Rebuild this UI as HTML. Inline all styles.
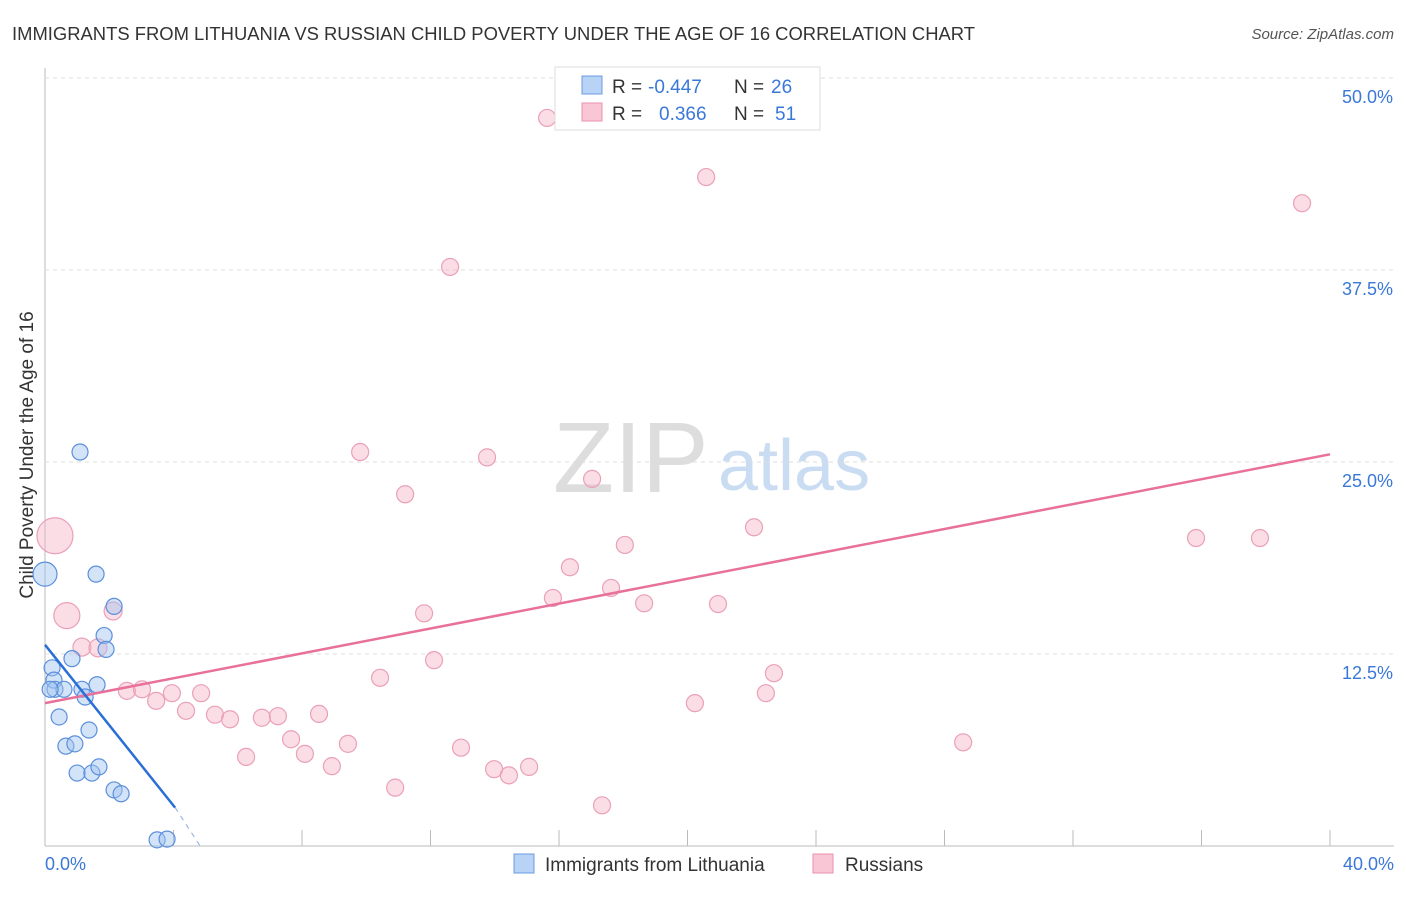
<!DOCTYPE html>
<html><head><meta charset="utf-8"><style>
body{margin:0;background:#fff;font-family:"Liberation Sans",sans-serif}
svg text{font-family:"Liberation Sans",sans-serif}
</style></head><body>
<svg id="c" width="1406" height="892">
<text x="12" y="40" font-size="18" fill="#333" textLength="963" lengthAdjust="spacingAndGlyphs">IMMIGRANTS FROM LITHUANIA VS RUSSIAN CHILD POVERTY UNDER THE AGE OF 16 CORRELATION CHART</text>
<text x="1394" y="39" font-size="15" fill="#555" font-style="italic" text-anchor="end">Source: ZipAtlas.com</text>
<text x="553" y="492" font-size="100" fill="#ddd" font-family="Liberation Serif">ZIP</text>
<text x="718" y="490" font-size="72" fill="#c9dcf2">atlas</text>
<text x="33" y="455" font-size="19" fill="#333" text-anchor="middle" transform="rotate(-90 33 455)">Child Poverty Under the Age of 16</text>
<g id="grid"></g><g id="marks"></g>
<g>
<rect x="555" y="67" width="265" height="63" fill="#fff" stroke="#ddd"/>
<rect x="582" y="76" width="20" height="18" fill="#b8d3f5" stroke="#6a9be0"/>
<rect x="582" y="103" width="20" height="18" fill="#f9c6d5" stroke="#e890ab"/>
<text x="612" y="93" font-size="19" fill="#333">R =</text>
<text x="648" y="93" font-size="19" fill="#3a78d8">-0.447</text>
<text x="734" y="93" font-size="19" fill="#333">N =</text>
<text x="771" y="93" font-size="19" fill="#3a78d8">26</text>
<text x="612" y="120" font-size="19" fill="#333">R =</text>
<text x="659" y="120" font-size="19" fill="#3a78d8">0.366</text>
<text x="734" y="120" font-size="19" fill="#333">N =</text>
<text x="775" y="120" font-size="19" fill="#3a78d8">51</text>
</g>
<g>
<rect x="514" y="854" width="20" height="19" fill="#b8d3f5" stroke="#6a9be0"/>
<text x="545" y="871" font-size="19" fill="#333">Immigrants from Lithuania</text>
<rect x="813" y="854" width="20" height="19" fill="#f9c6d5" stroke="#e890ab"/>
<text x="845" y="871" font-size="19" fill="#333">Russians</text>
</g>
</svg>
<script>
const blueX=[1.09,0,1.59,2.15,1.84,1.9,0.84,0.22,0.28,0.31,0.59,1.15,1.25,1.62,0.44,1.37,0.65,0.93,1.0,1.46,1.68,2.15,2.37,3.49,3.8,0.16];
const blueY=[25.65,17.7,17.7,15.6,13.7,12.8,12.2,11.6,10.8,10.2,10.2,10.2,9.7,10.5,8.4,7.55,6.5,6.65,4.75,4.75,5.15,3.65,3.4,0.4,0.45,10.2];
const blueR=[8,12,8,8,8,8,8,8,8,8,8,8,8,8,8,8,8,8,8,8,8,8,8,8,8,8];
const pinkX=[0.31,0.68,2.12,1.15,1.65,2.55,3.02,3.46,3.95,4.39,4.86,5.29,5.76,6.26,6.75,7.25,7.66,8.09,8.53,8.93,9.43,9.81,10.43,10.9,11.21,11.8,12.11,12.61,12.95,13.76,13.98,14.44,15.07,15.63,15.81,16.34,17.03,17.34,17.62,18.05,18.65,20.23,20.58,20.95,22.07,22.44,22.69,28.58,35.83,37.82,39.13];
const pinkY=[20.2,15.0,15.3,12.95,12.9,10.1,10.2,9.45,9.95,8.8,9.95,8.55,8.25,5.8,8.35,8.45,6.95,6.0,8.6,5.2,6.65,25.65,10.95,3.8,22.9,15.15,12.1,37.7,6.4,25.3,5.0,4.6,5.15,47.4,16.15,18.15,23.9,2.65,16.8,19.6,15.8,9.3,43.55,15.75,20.75,9.95,11.25,6.75,20.05,20.05,41.85];
const pinkR=[18,13,9,9,9,8.5,8.5,8.5,8.5,8.5,8.5,8.5,8.5,8.5,8.5,8.5,8.5,8.5,8.5,8.5,8.5,8.5,8.5,8.5,8.5,8.5,8.5,8.5,8.5,8.5,8.5,8.5,8.5,8.5,8.5,8.5,8.5,8.5,8.5,8.5,8.5,8.5,8.5,8.5,8.5,8.5,8.5,8.5,8.5,8.5,8.5];
const yTicks=[12.5,25,37.5,50];
const xTicks=[4,8,12,16,20,24,28,32,36,40];
const blueLine=[[0,13.1],[4.05,2.5]];
const blueDash=[[4.05,2.5],[4.83,0]];
const pinkLine=[[0,9.3],[40,25.5]];
const NS="http://www.w3.org/2000/svg";
const X=v=>45+v*32.125, Y=v=>846-v*15.36;
function mk(t,a,p){const e=document.createElementNS(NS,t);for(const k in a)e.setAttribute(k,a[k]);p.appendChild(e);return e;}
const g=document.getElementById('grid'),m=document.getElementById('marks');
mk('line',{x1:45,y1:68,x2:45,y2:846,stroke:'#bbb'},g);
mk('line',{x1:45,y1:846,x2:1394,y2:846,stroke:'#bbb'},g);
for(const t of yTicks){
 const l=mk('line',{x1:45,y1:Y(t),x2:1394,y2:Y(t),stroke:'#ddd','stroke-dasharray':'4,4'},g);
 
 
 const tx=mk('text',{x:1393,y:Y(t)+25,'font-size':18,fill:'#3a78d8','text-anchor':'end'},g);tx.textContent=t.toFixed(1)+'%';
 
 
}
for(const t of xTicks){
 const l=mk('line',{x1:X(t),y1:830,x2:X(t),y2:846,stroke:'#bbb'},g);
 
 
}
let a=mk('text',{x:45,y:870,'font-size':18,fill:'#3a78d8'},g);a.textContent='0.0%';


a=mk('text',{x:1394,y:870,'font-size':18,fill:'#3a78d8','text-anchor':'end'},g);a.textContent='40.0%';


pinkX.forEach((v,i)=>{const c=mk('circle',{cx:X(v),cy:Y(pinkY[i]),r:pinkR[i],fill:'rgba(246,180,200,0.45)',stroke:'#eaa0b8','stroke-width':1.2},m);
 
 });
blueX.forEach((v,i)=>{const c=mk('circle',{cx:X(v),cy:Y(blueY[i]),r:blueR[i],fill:'rgba(160,195,240,0.45)',stroke:'#5b8fdc','stroke-width':1.2},m);
 
 });
let l=mk('line',{x1:X(pinkLine[0][0]),y1:Y(pinkLine[0][1]),x2:X(pinkLine[1][0]),y2:Y(pinkLine[1][1]),stroke:'#e8709a','stroke-width':2.5},m);


l=mk('line',{x1:X(blueLine[0][0]),y1:Y(blueLine[0][1]),x2:X(blueLine[1][0]),y2:Y(blueLine[1][1]),stroke:'#2a6fd6','stroke-width':2.5},m);


l=mk('line',{x1:X(blueDash[0][0]),y1:Y(blueDash[0][1]),x2:X(blueDash[1][0]),y2:Y(blueDash[1][1]),stroke:'#9bb8e0','stroke-width':1.2,'stroke-dasharray':'5,5'},m);


</script>
</body></html>
